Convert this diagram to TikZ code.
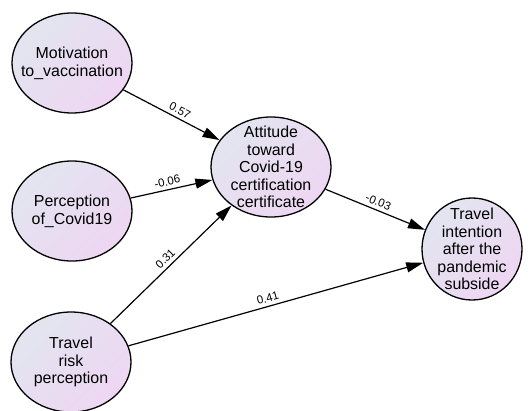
\documentclass[tikz,border=0pt]{standalone}
\usepackage{fontspec}
\setmainfont{Liberation Sans}
\usetikzlibrary{arrows.meta,shapes.geometric}
\definecolor{latentA}{RGB}{226,229,240}
\definecolor{latentB}{RGB}{238,214,242}

\begin{document}
\begin{tikzpicture}[
  x=1bp,y=-1bp,
  >={Triangle[length=17bp,width=10bp]},
  latent/.style={ellipse,draw=black,line width=1.3bp,inner sep=0pt,
    minimum width=120bp,minimum height=100bp,
    top color=latentA,bottom color=latentB,shading angle=45},
  txt/.style={align=center,inner sep=0pt,font=\fontsize{16}{17.7}\selectfont},
  path/.style={->,line width=1.2bp},
  coef/.style={sloped,above,inner sep=3.5bp,font=\fontsize{11.5}{13}\selectfont}
]
\useasboundingbox (0,0) rectangle (530,410);
% exogenous constructs
\node[latent] (mot) at (72,63) {};
\node[latent] (per) at (72,211) {};
\node[latent] (risk) at (71,362) {};
% mediator and outcome
\node[latent] (att) at (271,167) {};
\node[latent,minimum width=100bp,minimum height=102bp] (trav) at (472,249) {};
% construct names
\node[txt] (motT) at (mot) {Motivation\\to\_vaccination};
\node[txt] (perT) at (per) {Perception\\of\_Covid19};
\node[txt] (riskT) at (risk) {Travel\\risk\\perception};
\node[txt] (attT) at (att) {Attitude\\toward\\Covid-19\\certification\\certificate};
\node[txt] (travT) at (trav) {Travel\\intention\\after the\\pandemic\\subside};
% structural paths
\draw[path] (mot) -- node[coef,pos=0.55] {0.57} (att);
\draw[path] (per) -- node[coef,pos=0.47] {-0.06} (att);
\draw[path] (risk) -- node[coef,pos=0.5] {0.31} (att);
\draw[path] (att) -- node[coef,pos=0.5] {-0.03} (trav);
\draw[path] (risk) -- node[coef,pos=0.48] {0.41} (trav);
\end{tikzpicture}
\end{document}
